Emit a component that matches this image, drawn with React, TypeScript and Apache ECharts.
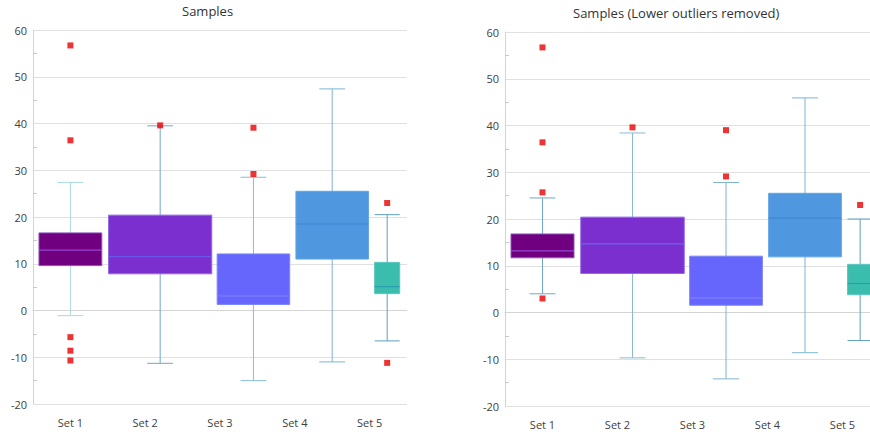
import React, { useEffect, useRef } from "react";
import * as echarts from "echarts";

const categories = ["Set 1", "Set 2", "Set 3", "Set 4", "Set 5"];
const yTicks = { min: -20, max: 60, interval: 10 };

// [min, q1, median, q3, max]
const statsAll = [
  [-1.1, 9.6, 12.9, 16.6, 27.4],
  [-11.3, 7.85, 11.5, 20.4, 39.5],
  [-15.0, 1.3, 3.1, 12.1, 28.5],
  [-11.0, 11.0, 18.5, 25.5, 47.4],
  [-6.5, 3.6, 5.1, 10.3, 20.5],
];
const outliersAll = [
  [56.7, 36.4, -5.7, -8.6, -10.7],
  [39.6],
  [29.2, 39.1],
  [],
  [23.0, -11.2],
];

const statsTrimmed = [
  [4.0, 11.7, 13.2, 16.8, 24.5],
  [-9.7, 8.35, 14.7, 20.4, 38.4],
  [-14.2, 1.55, 3.1, 12.05, 27.8],
  [-8.6, 11.9, 20.2, 25.5, 45.9],
  [-6.0, 3.8, 6.2, 10.3, 20.0],
];
const outliersTrimmed = [
  [56.7, 36.4, 25.7, 3.0],
  [39.6],
  [29.1, 39.0],
  [],
  [23.0],
];

// layout of boxes along the category band (in category units)
const boxCenters = [0.5, 1.7, 2.947, 4.0, 4.735];
const boxWidths = [0.84, 1.38, 0.97, 0.97, 0.335];
const capWidth = 0.345;

const fills = ["#70007f", "#7b2fcf", "#6666fd", "#4f97df", "#3bbdad"];
const borders = ["#8a55c0", "#8f6ae6", "#7a88f5", "#62a6e4", "#5cc4c0"];
const medians = ["#9347cf", "#6a62f0", "#8080ff", "#3f88d2", "#2a9fb0"];
const whiskersLeft = ["#a8d8e6", "#6fa8c8", "#86bcd6", "#7db4d2", "#5e9ec0"];
const whiskersRight = ["#6fa8c8", "#86bcd6", "#7db4d2", "#7db4d2", "#5e9ec0"];

const FONT = "'Open Sans', 'Noto Sans', sans-serif";

function makeRender(whiskers: string[]) {
  return function renderBox(params: any, api: any) {
    const i = api.value(0);
    const c = boxCenters[i];
    const w = boxWidths[i];
    const cw = Math.min(capWidth, w);
    const vMin = api.value(1);
    const q1 = api.value(2);
    const med = api.value(3);
    const q3 = api.value(4);
    const vMax = api.value(5);
    const pMin = api.coord([c, vMin]);
    const pMax = api.coord([c, vMax]);
    const pQ1 = api.coord([c - w / 2, q1]);
    const pQ3 = api.coord([c + w / 2, q3]);
    const pMedL = api.coord([c - w / 2, med]);
    const pMedR = api.coord([c + w / 2, med]);
    const capL = api.coord([c - cw / 2, vMin])[0];
    const capR = api.coord([c + cw / 2, vMin])[0];
    const wl = { stroke: whiskers[i], lineWidth: 1 };
    return {
      type: "group",
      children: [
        { type: "line", shape: { x1: pMin[0], y1: pMin[1], x2: pMax[0], y2: pMax[1] }, style: wl },
        { type: "line", shape: { x1: capL, y1: pMin[1], x2: capR, y2: pMin[1] }, style: wl },
        { type: "line", shape: { x1: capL, y1: pMax[1], x2: capR, y2: pMax[1] }, style: wl },
        {
          type: "rect",
          shape: { x: pQ1[0], y: pQ3[1], width: pQ3[0] - pQ1[0], height: pQ1[1] - pQ3[1] },
          style: { fill: fills[i], stroke: borders[i], lineWidth: 1 },
        },
        {
          type: "line",
          shape: { x1: pMedL[0], y1: pMedL[1], x2: pMedR[0], y2: pMedR[1] },
          style: { stroke: medians[i], lineWidth: 1.2 },
        },
      ],
    };
  };
}

function catAxis(gridIndex: number) {
  return {
    type: "category",
    gridIndex,
    data: categories,
    boundaryGap: true,
    axisLine: { lineStyle: { color: "#d4d4d4" } },
    axisTick: { alignWithLabel: true, length: 5, lineStyle: { color: "#d4d4d4" } },
    axisLabel: { interval: 0, margin: 13, color: "#404040", fontSize: 11, fontFamily: FONT },
    splitLine: { show: false },
  };
}

function valAxisX(gridIndex: number) {
  return { type: "value", gridIndex, min: 0, max: 5, show: false };
}

function yAxis(gridIndex: number) {
  return {
    type: "value",
    gridIndex,
    min: yTicks.min,
    max: yTicks.max,
    interval: yTicks.interval,
    axisLine: { show: true, lineStyle: { color: "#d4d4d4" } },
    axisTick: { show: false, inside: true },
    minorTick: { show: true, splitNumber: 2, length: 4, lineStyle: { color: "#c8c8c8" } },
    axisLabel: { margin: 6, color: "#404040", fontSize: 11, fontFamily: FONT },
    splitLine: { show: true, lineStyle: { color: "#e0e0e0" } },
  };
}

function outlierData(outs: number[][]) {
  const d: number[][] = [];
  outs.forEach((arr, i) => arr.forEach((v) => d.push([boxCenters[i], v])));
  return d;
}

export default function App() {
  const ref = useRef<HTMLDivElement>(null);
  useEffect(() => {
    document.body.style.margin = "0";
    const chart = echarts.init(ref.current!, undefined, { renderer: "svg" });
    chart.setOption({
      animation: false,
      backgroundColor: "#ffffff",
      title: [
        {
          text: "Samples",
          left: 182,
          top: 4,
          padding: 0,
          textStyle: { fontSize: 13, fontWeight: "normal", color: "#333333", fontFamily: FONT },
        },
        {
          text: "Samples (Lower outliers removed)",
          left: 573,
          top: 6,
          padding: 0,
          textStyle: { fontSize: 13, fontWeight: "normal", color: "#333333", fontFamily: FONT },
        },
      ],
      grid: [
        { left: 33, top: 30, width: 374, height: 374 },
        { left: 505, top: 32, width: 375, height: 374 },
      ],
      xAxis: [catAxis(0), valAxisX(0), catAxis(1), valAxisX(1)],
      yAxis: [yAxis(0), yAxis(1)],
      series: [
        {
          type: "custom",
          xAxisIndex: 1,
          yAxisIndex: 0,
          renderItem: makeRender(whiskersLeft),
          data: statsAll.map((s, i) => [i, ...s]),
          clip: false,
        },
        {
          type: "scatter",
          xAxisIndex: 1,
          yAxisIndex: 0,
          symbol: "rect",
          symbolSize: 6,
          itemStyle: { color: "#e80000" },
          data: outlierData(outliersAll),
        },
        {
          type: "custom",
          xAxisIndex: 3,
          yAxisIndex: 1,
          renderItem: makeRender(whiskersRight),
          data: statsTrimmed.map((s, i) => [i, ...s]),
          clip: false,
        },
        {
          type: "scatter",
          xAxisIndex: 3,
          yAxisIndex: 1,
          symbol: "rect",
          symbolSize: 6,
          itemStyle: { color: "#e80000" },
          data: outlierData(outliersTrimmed),
        },
      ],
    });
    return () => chart.dispose();
  }, []);
  return (
    <div style={{ width: 870, height: 435, overflow: "hidden", position: "relative" }}>
      <div ref={ref} style={{ width: 890, height: 435 }} />
    </div>
  );
}
